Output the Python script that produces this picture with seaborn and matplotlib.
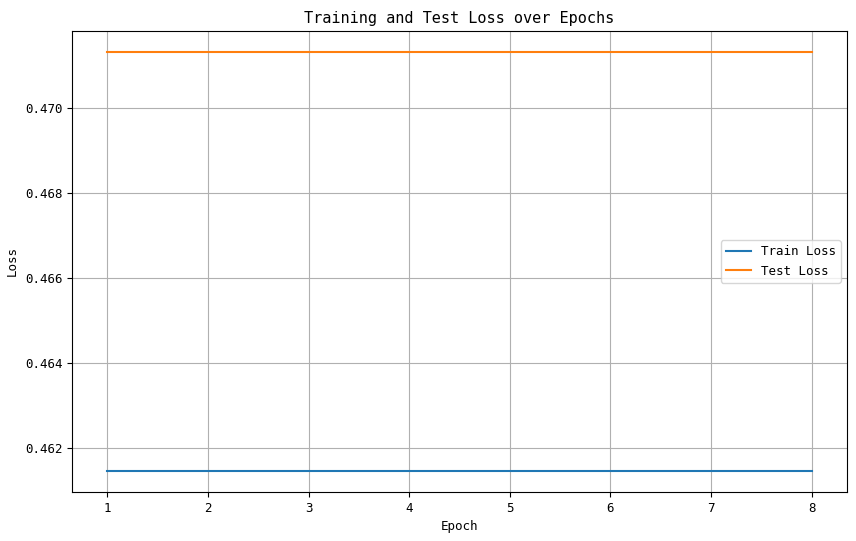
import numpy as np
import pandas as pd
import seaborn as sns
import matplotlib.pyplot as plt

epochs = [1, 2, 3, 4, 5, 6, 7, 8]
train_loss = [0.46146] * 8
test_loss = [0.47133] * 8

plt.rcParams['font.family'] = ['DejaVu Sans Mono', 'Noto Sans CJK SC']
plt.rcParams['font.size'] = 9

df = pd.DataFrame({
    'Epoch': epochs * 2,
    'Loss': train_loss + test_loss,
    'Series': ['Train Loss'] * 8 + ['Test Loss'] * 8,
})

fig, ax = plt.subplots(figsize=(8.56, 5.41), dpi=100)
fig.subplots_adjust(left=0.0841, right=0.9895, top=0.9427, bottom=0.0906)
sns.lineplot(data=df, x='Epoch', y='Loss', hue='Series',
             palette=['#1f77b4', '#ff7f0e'], ax=ax)
ax.set_title('Training and Test Loss over Epochs', fontsize=11)
ax.set_xlabel('Epoch')
ax.set_ylabel('Loss')
ax.grid(True)
ax.legend(loc='center right', title=None)
plt.savefig('out.png', dpi=100)
